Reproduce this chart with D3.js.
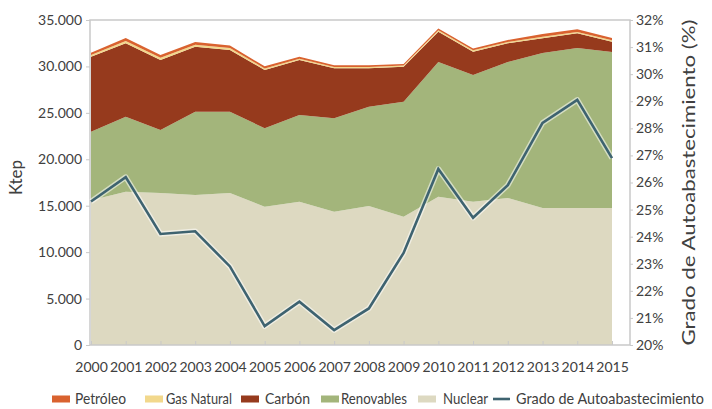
<!DOCTYPE html>
<html>
<head>
<meta charset="utf-8">
<script src="https://cdn.jsdelivr.net/npm/d3@7"></script>
<style>
  html, body { margin: 0; padding: 0; background: #fff; }
  svg { display: block; }
  text { font-family: Lato, "Open Sans", sans-serif; fill: #404040; }
</style>
</head>
<body>
<svg id="chart" width="712" height="409"></svg>
<script>
// Producción de energía primaria (ktep) y grado de autoabastecimiento (%)
const years = [2000, 2001, 2002, 2003, 2004, 2005, 2006, 2007, 2008, 2009, 2010, 2011, 2012, 2013, 2014, 2015];

const nuclear    = [15600, 16500, 16370, 16150, 16370, 14900, 15430, 14360, 14970, 13820, 15970, 15430, 15830, 14750, 14750, 14750];
const renovables = [7370, 8090, 6790, 8980, 8760, 8440, 9340, 10050, 10700, 12380, 14510, 13650, 14650, 16700, 17240, 16810];
const carbon     = [8080, 7900, 7530, 7000, 6640, 6280, 5920, 5390, 4130, 3770, 3260, 2510, 2010, 1580, 1580, 1100];
const gasNatural = [180, 260, 250, 200, 220, 170, 140, 130, 130, 120, 150, 140, 150, 160, 150, 160];
const petroleo   = [230, 300, 290, 290, 260, 220, 200, 200, 190, 180, 200, 190, 210, 290, 280, 240];
const autoabastecimiento = [25.3, 26.2, 24.1, 24.2, 22.9, 20.7, 21.6, 20.55, 21.35, 23.4, 26.5, 24.7, 25.9, 28.2, 29.05, 26.9];

const leftTicks  = [0, 5000, 10000, 15000, 20000, 25000, 30000, 35000];
const rightTicks = [20, 21, 22, 23, 24, 25, 26, 27, 28, 29, 30, 31, 32];

// stacking order, bottom to top
const series = [
  { key: "Nuclear",     values: nuclear,    color: "#ddd9c1" },
  { key: "Renovables",  values: renovables, color: "#a3b57b" },
  { key: "Carbón",      values: carbon,     color: "#963a1d" },
  { key: "Gas Natural", values: gasNatural, color: "#f2d88c" },
  { key: "Petróleo",    values: petroleo,   color: "#d9622f" }
];
const legendOrder = ["Petróleo", "Gas Natural", "Carbón", "Renovables", "Nuclear"];
const lineColor = "#3e6370";

const svg = d3.select("#chart");
const plot = { left: 90, right: 630, top: 20, bottom: 345 };

const x = d3.scalePoint().domain(years).range([91, 612]);
const y = d3.scaleLinear().domain([0, 35000]).range([plot.bottom, plot.top]);
const y2 = d3.scaleLinear().domain([20, 32]).range([plot.bottom, plot.top]);

// table for the stack
const rows = years.map((yr, i) => {
  const r = { year: yr };
  series.forEach(s => { r[s.key] = s.values[i]; });
  return r;
});
const stacked = d3.stack().keys(series.map(s => s.key))(rows);

const area = d3.area()
  .x(d => x(d.data.year))
  .y0(d => y(d[0]))
  .y1(d => y(d[1]));

svg.append("g").selectAll("path")
  .data(stacked)
  .join("path")
  .attr("d", area)
  .attr("fill", (d, i) => series[i].color);

// plot frame
svg.append("rect")
  .attr("x", plot.left).attr("y", plot.top)
  .attr("width", plot.right - plot.left).attr("height", plot.bottom - plot.top)
  .attr("fill", "none").attr("stroke", "#c9c9c9").attr("stroke-width", 1.5);

// autoabastecimiento line with light halo
const line = d3.line().x((d, i) => x(years[i])).y(d => y2(d));
svg.append("path").datum(autoabastecimiento)
  .attr("d", line).attr("fill", "none")
  .attr("stroke", "rgba(255,255,255,0.55)").attr("stroke-width", 5.5)
  .attr("stroke-linejoin", "round");
svg.append("path").datum(autoabastecimiento)
  .attr("d", line).attr("fill", "none")
  .attr("stroke", lineColor).attr("stroke-width", 2.6)
  .attr("stroke-linejoin", "miter");

// left axis
const fmt = d3.format(",");
const leftAxis = d3.axisLeft(y).tickValues(leftTicks).tickSize(4).tickPadding(4)
  .tickFormat(d => fmt(d).replace(/,/g, "."));
const gL = svg.append("g").attr("transform", `translate(${plot.left},0)`).call(leftAxis);
gL.select(".domain").remove();
gL.selectAll(".tick line").attr("stroke", "#c9c9c9");
gL.selectAll("text").style("font-size", "14px").attr("fill", "#404040");

// right axis
const rightAxis = d3.axisRight(y2).tickValues(rightTicks).tickSize(3).tickPadding(3)
  .tickFormat(d => d + "%");
const gR = svg.append("g").attr("transform", `translate(${plot.right},0)`).call(rightAxis);
gR.select(".domain").remove();
gR.selectAll(".tick line").attr("stroke", "#c9c9c9");
gR.selectAll("text").style("font-size", "14px").attr("fill", "#404040");

// bottom axis
const xAxis = d3.axisBottom(x).tickSize(4).tickPadding(13).tickFormat(d => String(d));
const gB = svg.append("g").attr("transform", `translate(0,${plot.bottom})`).call(xAxis);
gB.select(".domain").remove();
gB.selectAll(".tick line").attr("stroke", "#c9c9c9").attr("transform", "translate(0,-4)");
gB.selectAll("text").style("font-size", "14px").attr("fill", "#404040");

// axis titles
svg.append("text")
  .attr("transform", `translate(22,${(plot.top + plot.bottom) / 2 - 5}) rotate(-90)`)
  .attr("text-anchor", "middle")
  .style("font-size", "17px")
  .text("Ktep");

svg.append("text")
  .attr("transform", `translate(695,${(plot.top + plot.bottom) / 2}) rotate(-90)`)
  .attr("text-anchor", "middle")
  .attr("textLength", 326)
  .attr("lengthAdjust", "spacingAndGlyphs")
  .style("font-size", "17px")
  .text("Grado de Autoabastecimiento (%)");

// legend: swatch start, text start and text width per entry
const legendItems = legendOrder.map(k => series.find(s => s.key === k))
  .concat([{ key: "Grado de Autoabastecimiento", line: true, color: lineColor }]);
const legendSwatchX = [52, 145, 241, 321, 418, 493];
const legendTextX   = [75, 166, 265, 341, 443, 516];
const legendTextW   = [51, 66, 45, 66, 45, 188];
const lg = svg.append("g").attr("transform", "translate(0,399)");
legendItems.forEach((it, i) => {
  if (it.line) {
    lg.append("line").attr("x1", legendSwatchX[i]).attr("x2", legendSwatchX[i] + 17)
      .attr("y1", 0).attr("y2", 0)
      .attr("stroke", it.color).attr("stroke-width", 2.6);
  } else {
    lg.append("rect").attr("x", legendSwatchX[i]).attr("y", -3.5)
      .attr("width", 18).attr("height", 7)
      .attr("fill", it.color);
  }
  lg.append("text").attr("x", legendTextX[i]).attr("y", 0).attr("dy", "0.35em")
    .attr("textLength", legendTextW[i]).attr("lengthAdjust", "spacingAndGlyphs")
    .style("font-size", "15px")
    .text(it.key);
});
</script>
</body>
</html>
